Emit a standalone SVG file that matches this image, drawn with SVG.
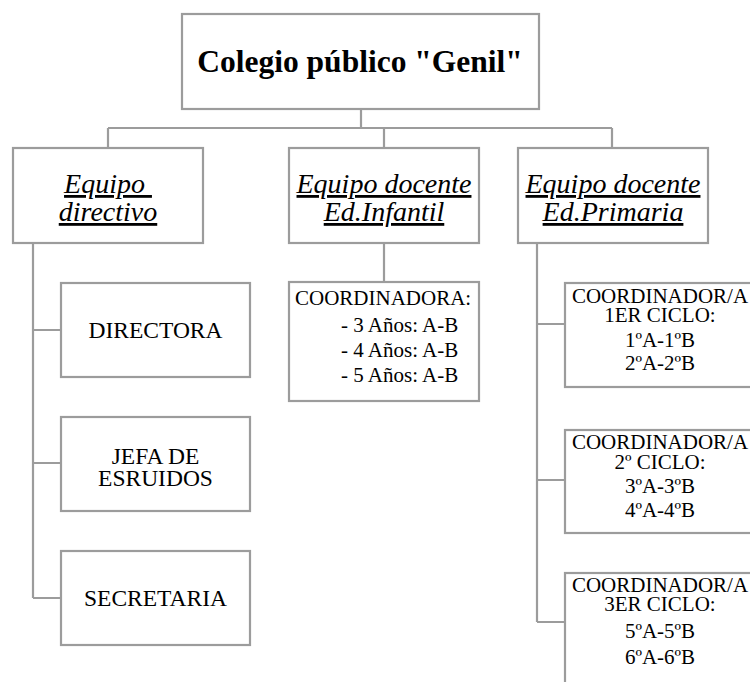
<svg xmlns="http://www.w3.org/2000/svg" width="750" height="682" viewBox="0 0 750 682">
<style>
.box{fill:#fff;stroke:#9c9c9c;stroke-width:2.2}
.con{fill:none;stroke:#9c9c9c;stroke-width:2.2}
text{font-family:"Liberation Serif","Times New Roman",serif;fill:#000}
.title{font-size:31.5px;font-weight:bold;text-anchor:middle}
.eq{font-size:28px;font-style:italic;text-decoration:underline;text-anchor:middle;white-space:pre}
.dir{font-size:23.5px;text-anchor:middle}
.co{font-size:21px}
.mid{text-anchor:middle}
</style>
<rect width="750" height="682" fill="#fff"/>
<g id="connectors">
<path class="con" d="M361 109V128M108 128H612M108 128V148M384 128V148M612 128V148"/>
<path class="con" d="M33 243V598M33 330H61M33 463H61M33 598H61"/>
<path class="con" d="M384 243V282"/>
<path class="con" d="M537 243V622M537 324H565M537 480H565M537 622H565"/>
</g>
<g id="root">
<rect class="box" x="182" y="14" width="357" height="95"/>
<text class="title" x="360" y="72">Colegio público "Genil"</text>
</g>
<g id="equipo-directivo">
<rect class="box" x="13" y="148" width="190" height="95"/>
<text class="eq" x="108" y="193" xml:space="preserve">Equipo </text>
<text class="eq" x="108" y="221">directivo</text>
</g>
<g id="equipo-infantil">
<rect class="box" x="289" y="148" width="190" height="95"/>
<text class="eq" x="384" y="193">Equipo docente</text>
<text class="eq" x="384" y="221">Ed.Infantil</text>
</g>
<g id="equipo-primaria">
<rect class="box" x="518" y="148" width="190" height="95"/>
<text class="eq" x="613" y="193">Equipo docente</text>
<text class="eq" x="613" y="221">Ed.Primaria</text>
</g>
<g id="directora">
<rect class="box" x="61" y="283" width="189" height="94"/>
<text class="dir" x="155.5" y="338">DIRECTORA</text>
</g>
<g id="jefa">
<rect class="box" x="61" y="417" width="189" height="94"/>
<text class="dir" x="155.5" y="464">JEFA DE</text>
<text class="dir" x="155.5" y="486">ESRUIDOS</text>
</g>
<g id="secretaria">
<rect class="box" x="61" y="551" width="189" height="94"/>
<text class="dir" x="155.5" y="606">SECRETARIA</text>
</g>
<g id="infantil-coord">
<rect class="box" x="289" y="282" width="190" height="119"/>
<text class="co" x="295" y="305">COORDINADORA:</text>
<text class="co" x="341" y="332">- 3 Años: A-B</text>
<text class="co" x="341" y="357">- 4 Años: A-B</text>
<text class="co" x="341" y="382">- 5 Años: A-B</text>
</g>
<g id="ciclo1">
<rect class="box" x="565" y="283" width="190" height="104"/>
<text class="co mid" x="660" y="303">COORDINADOR/A</text>
<text class="co mid" x="660" y="322">1ER CICLO:</text>
<text class="co mid" x="660" y="347">1ºA-1ºB</text>
<text class="co mid" x="660" y="370">2ºA-2ºB</text>
</g>
<g id="ciclo2">
<rect class="box" x="565" y="430" width="190" height="103"/>
<text class="co mid" x="660" y="449">COORDINADOR/A</text>
<text class="co mid" x="660" y="469">2º CICLO:</text>
<text class="co mid" x="660" y="493">3ºA-3ºB</text>
<text class="co mid" x="660" y="517">4ºA-4ºB</text>
</g>
<g id="ciclo3">
<rect class="box" x="565" y="573" width="190" height="120"/>
<text class="co mid" x="660" y="592">COORDINADOR/A</text>
<text class="co mid" x="660" y="611">3ER CICLO:</text>
<text class="co mid" x="660" y="638">5ºA-5ºB</text>
<text class="co mid" x="660" y="664">6ºA-6ºB</text>
</g>
</svg>
